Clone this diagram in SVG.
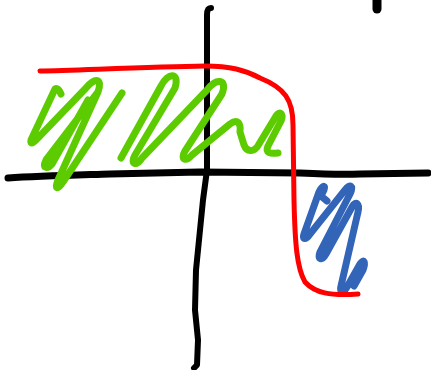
<svg xmlns="http://www.w3.org/2000/svg" width="431" height="370" viewBox="0 0 431 370">
<style>
.s{fill:none;stroke-linecap:round;stroke-linejoin:round}
.ax{stroke:#000}
.red{stroke:#ff0000;stroke-width:5}
.grn{stroke:#5ccc00;stroke-width:7}
.blu{stroke:#3264b8;stroke-width:7}
</style>
<rect width="431" height="370" fill="#fff"/>
<g id="axes">
<path class="s ax" stroke-width="7" d="M8,178 C40,176 80,175 110,174 L200,172 L300,173 C320,174 340,175 360,174 L428,173"/>
<path class="s ax" stroke-width="6" d="M211,8 Q207,8 207,15 L207,170 L203,200 L196,270 L195,310 L198,340 L197,365 L194,368"/>
<path class="s ax" stroke-width="9" d="M377,-5 L377,9"/>
</g>
<g id="green-area">
<path class="s grn" d="M61,94 Q58,87 55,89 L31,140 Q30,146 36,140 L86,88 C95,77 103,78 98,92 L46,160 C42,168 47,170 52,164 L88,100 M98,92 L58,180 C54,190 58,190 63,182 L122,93"/>
<path class="s grn" d="M121,158 L161,86 C168,72 180,72 175,88 L135,155 C130,164 136,167 142,158 L207,90 C216,78 228,78 222,94 L185,151 C180,160 186,162 192,155 L230,124 C238,118 241,124 240,132 L244,145 C247,153 255,152 259,144 L276,116 C280,110 284,114 281,121 L268,146 C265,153 270,154 278,153"/>
</g>
<g id="blue-area">
<path class="s blu" d="M327,201 L321,196 L324,190 C326,184 322,186 319,192 L304,234 C302,240 306,240 310,234 L345,190 C350,183 354,186 350,194 L320,252 C317,260 322,261 326,254 L352,207 C356,200 360,204 358,212 L341,286 C339,293 344,293 347,287 L360,264 C364,258 366,262 363,270 L354,286"/>
</g>
<g id="red-curve">
<path class="s red" d="M40,71 C80,70 150,67 205,66 C230,66 245,70 260,78 C285,88 293,100 293,125 L294,200 C295,245 297,268 305,282 C315,293 330,296 358,294"/>
</g>
</svg>
